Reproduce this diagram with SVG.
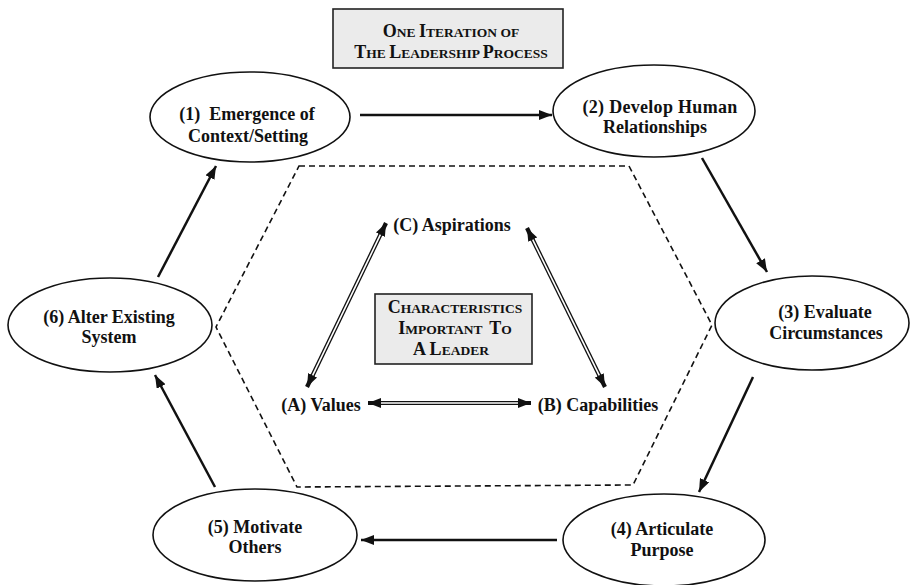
<svg xmlns="http://www.w3.org/2000/svg" width="911" height="585" viewBox="0 0 911 585" font-family="Liberation Serif, Times New Roman, Times, serif">
  <style>
    text { font-family: "Liberation Serif", "Times New Roman", Times, serif; }
    .lbl { font-weight: bold; font-size: 18px; fill: #111; text-anchor: middle; }
    .sc { font-weight: bold; fill: #111; text-anchor: middle; }
    .big { font-size: 18px; }
    .sm { font-size: 13.5px; }
    .node { fill: #fff; stroke: #111; stroke-width: 1.6; }
    .box { fill: #ebebeb; stroke: #222; stroke-width: 1.6; }
    .flow { fill: none; stroke: #111; stroke-width: 2.5; marker-end: url(#head); }
    .dbl { fill: none; stroke: #111; stroke-width: 4.2; marker-start: url(#head2); marker-end: url(#head2); }
    .dblin { fill: none; stroke: #fff; stroke-width: 1.6; }
    .hex { fill: none; stroke: #111; stroke-width: 1.6; stroke-dasharray: 6 4; }
  </style>
  <defs>
    <marker id="head" markerUnits="userSpaceOnUse" markerWidth="13" markerHeight="10" refX="13" refY="5" orient="auto">
      <path d="M0,0 L13,5 L0,10 z" fill="#111"/>
    </marker>
    <marker id="head2" markerUnits="userSpaceOnUse" markerWidth="13" markerHeight="10" refX="13" refY="5" orient="auto-start-reverse">
      <path d="M0,0 L13,5 L0,10 z" fill="#111"/>
    </marker>
  </defs>

  <rect width="911" height="585" fill="#fff"/>

  <!-- central region of leader characteristics -->
  <polygon class="hex" points="299,166 629,166 712,325 633,485 297,487 216,327"/>

  <!-- title -->
  <g id="title">
    <rect class="box" x="333" y="9" width="230" height="59"/>
    <text class="sc" x="451" y="37"><tspan class="big">O</tspan><tspan class="sm">NE </tspan><tspan class="big">I</tspan><tspan class="sm">TERATION OF</tspan></text>
    <text class="sc" x="451" y="58"><tspan class="big">T</tspan><tspan class="sm">HE </tspan><tspan class="big">L</tspan><tspan class="sm">EADERSHIP </tspan><tspan class="big">P</tspan><tspan class="sm">ROCESS</tspan></text>
  </g>

  <!-- process cycle connectors -->
  <g id="connectors">
    <path class="flow" d="M360,115 L552,115"/>
    <path class="flow" d="M702,158 L767,272"/>
    <path class="flow" d="M753,377 L699,492"/>
    <path class="flow" d="M557,540 L361,540"/>
    <path class="flow" d="M215,487 L155,375"/>
    <path class="flow" d="M158,277 L216,166"/>

    <!-- double-lined links between characteristics -->
    <path class="dbl" d="M368,403 L531,403"/>
    <path class="dblin" d="M381,403 L518,403"/>
    <path class="dbl" d="M307,387 L386,223"/>
    <path class="dblin" d="M312.6,375.3 L380.4,234.7"/>
    <path class="dbl" d="M527,228 L605,387"/>
    <path class="dblin" d="M532.7,239.7 L599.3,375.3"/>
  </g>

  <g id="n1">
    <ellipse class="node" cx="250" cy="117" rx="100" ry="45"/>
    <text class="lbl" x="247" y="120" xml:space="preserve">(1)  Emergence of</text>
    <text class="lbl" x="248" y="142">Context/Setting</text>
  </g>
  <g id="n2">
    <ellipse class="node" cx="654" cy="111" rx="101" ry="46"/>
    <text class="lbl" x="660" y="113" letter-spacing="0.3">(2) Develop Human</text>
    <text class="lbl" x="655" y="133">Relationships</text>
  </g>
  <g id="n3">
    <ellipse class="node" cx="812" cy="323" rx="97" ry="47"/>
    <text class="lbl" x="825" y="318">(3) Evaluate</text>
    <text class="lbl" x="826" y="339">Circumstances</text>
  </g>
  <g id="n4">
    <ellipse class="node" cx="664" cy="540" rx="101" ry="46"/>
    <text class="lbl" x="662" y="535">(4) Articulate</text>
    <text class="lbl" x="662" y="556">Purpose</text>
  </g>
  <g id="n5">
    <ellipse class="node" cx="255" cy="535" rx="102" ry="46"/>
    <text class="lbl" x="255" y="533">(5) Motivate</text>
    <text class="lbl" x="255" y="553">Others</text>
  </g>
  <g id="n6">
    <ellipse class="node" cx="110" cy="325" rx="102" ry="47"/>
    <text class="lbl" x="109" y="323">(6) Alter Existing</text>
    <text class="lbl" x="109" y="343">System</text>
  </g>

  <g id="center-box">
    <rect class="box" x="375" y="294" width="157" height="70" fill="#e6e6e6"/>
    <text class="sc" x="455" y="313"><tspan class="big">C</tspan><tspan class="sm">HARACTERISTICS</tspan></text>
    <text class="sc" x="455" y="334" xml:space="preserve"><tspan class="big">I</tspan><tspan class="sm">MPORTANT  </tspan><tspan class="big">T</tspan><tspan class="sm">O</tspan></text>
    <text class="sc" x="451" y="355"><tspan class="big">A L</tspan><tspan class="sm">EADER</tspan></text>
  </g>

  <g id="c-aspirations">
    <text class="lbl" x="452" y="231">(C) Aspirations</text>
  </g>
  <g id="a-values">
    <text class="lbl" x="321" y="411">(A) Values</text>
  </g>
  <g id="b-capabilities">
    <text class="lbl" x="598" y="411">(B) Capabilities</text>
  </g>
</svg>
